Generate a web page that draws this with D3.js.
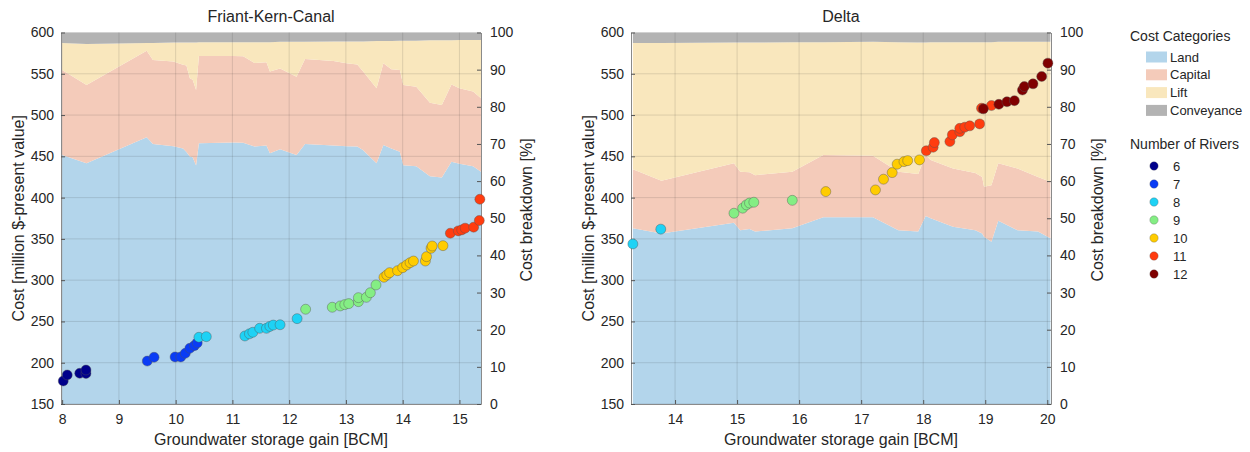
<!DOCTYPE html>
<html>
<head>
<meta charset="utf-8">
<script src="https://cdn.jsdelivr.net/npm/d3@7"></script>
<style>
  body { margin: 0; background: #fff; }
  svg { display: block; }
  text { font-family: "Liberation Sans", Arial, Helvetica, sans-serif; fill: #262626; }
</style>
</head>
<body>
<svg id="chart" width="1250" height="452"></svg>
<script>
// ---- Cost categories and river-count classes ----
const categories = ["Land", "Capital", "Lift", "Conveyance"];
const categoryColors = ["#b3d5eb", "#f4cbba", "#f9e7bd", "#b3b3b3"];
const riverCounts = [6, 7, 8, 9, 10, 11, 12];
const riverColors = ["#00008b", "#0a3cf5", "#1ed2f5", "#84ee84", "#ffcc00", "#ff3c0f", "#800000"];

// ---- Axis ticks ----
const costTicks = [150, 200, 250, 300, 350, 400, 450, 500, 550, 600];
const pctTicks = [0, 10, 20, 30, 40, 50, 60, 70, 80, 90, 100];
const fkcXTicks = [8, 9, 10, 11, 12, 13, 14, 15];
const deltaXTicks = [14, 15, 16, 17, 18, 19, 20];

// ---- Friant-Kern-Canal: cost breakdown [%] along storage gain ----
const fkcAreaX = [8.00, 8.43, 9.49, 9.60, 9.96, 10.13, 10.19, 10.25, 10.30, 10.36, 10.41, 11.01, 11.19, 11.39, 11.60, 11.66, 11.84, 12.13, 12.28, 12.78, 13.01, 13.20, 13.30, 13.54, 13.66, 13.80, 13.95, 14.01, 14.24, 14.48, 14.69, 14.86, 15.00, 15.24, 15.38];
const fkcLand = [67.0, 64.8, 71.8, 70.0, 69.4, 68.8, 67.8, 66.6, 66.4, 64.2, 70.2, 70.4, 70.3, 69.3, 69.6, 67.5, 68.6, 67.0, 70.0, 69.6, 69.4, 69.3, 68.4, 64.8, 69.7, 68.8, 67.9, 64.3, 64.0, 61.3, 61.0, 65.2, 64.7, 64.0, 62.5];
const fkcCapital = [22.9, 21.1, 23.3, 22.6, 22.8, 22.5, 23.3, 21.1, 20.9, 20.3, 23.5, 23.3, 23.3, 22.5, 22.4, 22.0, 21.7, 21.1, 22.9, 22.7, 22.3, 22.1, 21.2, 20.2, 22.0, 21.3, 22.0, 21.6, 21.4, 19.8, 19.5, 20.8, 20.3, 20.1, 19.8];
const fkcLift = [7.3, 11.0, 2.1, 4.6, 5.1, 6.0, 6.2, 9.6, 10.0, 12.8, 3.7, 3.7, 3.8, 5.6, 5.4, 7.9, 7.2, 9.4, 4.6, 5.3, 5.9, 6.2, 8.0, 12.7, 6.0, 7.6, 7.9, 11.9, 12.4, 16.8, 17.4, 11.9, 13.0, 13.9, 15.7];
const fkcConveyance = [2.8, 3.1, 2.8, 2.8, 2.7, 2.7, 2.7, 2.7, 2.7, 2.7, 2.6, 2.6, 2.6, 2.6, 2.6, 2.6, 2.5, 2.5, 2.5, 2.4, 2.4, 2.4, 2.4, 2.3, 2.3, 2.3, 2.2, 2.2, 2.2, 2.1, 2.1, 2.1, 2.0, 2.0, 2.0];

// ---- Friant-Kern-Canal: portfolio cost [million $] ----
const fkcGain = [8.02, 8.09, 8.31, 8.42, 8.42,
  9.50, 9.62, 9.99, 10.09, 10.17, 10.25, 10.33, 10.38,
  10.41, 10.54, 11.22, 11.30, 11.36, 11.48, 11.60, 11.66, 11.72, 11.84, 12.14,
  12.29, 12.76, 12.90, 12.98, 13.05, 13.22, 13.22, 13.36, 13.43, 13.53,
  13.67, 13.72, 13.77, 13.91, 14.00, 14.07, 14.13, 14.19, 14.40, 14.42, 14.50, 14.52, 14.71,
  14.84, 14.98, 15.04, 15.10, 15.25, 15.35, 15.36];
const fkcCost = [177.9, 185.2, 187.2, 187.0, 191.2,
  202.0, 206.6, 207.0, 207.0, 211.4, 217.5, 220.7, 224.0,
  230.8, 231.6, 232.4, 235.0, 236.9, 241.7, 241.7, 244.0, 245.6, 246.0, 253.4,
  264.8, 267.2, 268.8, 270.4, 271.6, 274.0, 278.8, 279.2, 284.8, 294.2,
  303.5, 306.3, 309.1, 311.5, 315.2, 318.4, 321.2, 323.2, 323.2, 328.5, 338.6, 341.4, 341.8,
  356.9, 359.7, 360.9, 363.0, 364.2, 372.3, 398.0];
const fkcRivers = [6, 6, 6, 6, 6,
  7, 7, 7, 7, 7, 7, 7, 7,
  8, 8, 8, 8, 8, 8, 8, 8, 8, 8, 8,
  9, 9, 9, 9, 9, 9, 9, 9, 9, 9,
  10, 10, 10, 10, 10, 10, 10, 10, 10, 10, 10, 10, 10,
  11, 11, 11, 11, 11, 11, 11];

// ---- Delta: cost breakdown [%] along storage gain ----
const deltaAreaX = [13.32, 13.78, 14.95, 15.05, 15.20, 15.29, 15.89, 16.39, 17.19, 17.60, 17.92, 18.04, 18.12, 18.48, 18.84, 18.95, 18.98, 19.10, 19.21, 19.52, 19.85, 20.05];
const deltaLand = [47.3, 45.9, 48.8, 46.8, 47.1, 46.4, 47.3, 50.3, 50.3, 46.8, 46.4, 50.6, 50.0, 47.7, 46.8, 45.9, 45.0, 43.7, 49.3, 46.8, 46.4, 44.6];
const deltaCapital = [15.9, 14.2, 16.0, 15.7, 15.3, 15.2, 15.2, 16.7, 16.5, 15.7, 15.5, 16.4, 15.7, 15.7, 15.4, 15.2, 13.5, 15.2, 15.5, 16.6, 14.7, 15.2];
const deltaLift = [34.0, 37.1, 32.5, 34.8, 34.9, 35.7, 34.9, 30.4, 30.7, 34.9, 35.4, 30.3, 31.7, 34.0, 35.2, 36.3, 38.9, 38.5, 32.7, 34.1, 36.4, 37.7];
const deltaConveyance = [2.8, 2.8, 2.7, 2.7, 2.7, 2.7, 2.6, 2.6, 2.5, 2.6, 2.7, 2.7, 2.6, 2.6, 2.6, 2.6, 2.6, 2.6, 2.5, 2.5, 2.5, 2.5];

// ---- Delta: portfolio cost [million $] ----
const deltaGain = [13.32, 13.77,
  14.95, 15.09, 15.15, 15.20, 15.27, 15.89,
  16.43, 17.23, 17.36, 17.50, 17.58, 17.69, 17.75, 17.94,
  18.05, 18.16, 18.18, 18.43, 18.47, 18.59, 18.59, 18.67, 18.75, 18.91, 18.94, 19.10,
  18.97, 19.22, 19.35, 19.47, 19.60, 19.63, 19.77, 19.91, 20.01];
const deltaCost = [343.9, 361.8,
  381.1, 387.2, 391.2, 393.4, 394.4, 396.7,
  407.3, 409.3, 422.3, 430.3, 440.5, 443.6, 444.8, 445.7,
  456.7, 461.0, 466.7, 467.9, 476.0, 479.8, 483.9, 485.3, 486.9, 489.3, 508.3, 511.5,
  507.5, 513.0, 516.1, 517.4, 530.3, 534.5, 537.8, 546.7, 562.9];
const deltaRivers = [8, 8,
  9, 9, 9, 9, 9, 9,
  10, 10, 10, 10, 10, 10, 10, 10,
  11, 11, 11, 11, 11, 11, 11, 11, 11, 11, 11, 11,
  12, 12, 12, 12, 12, 12, 12, 12, 12];

// ---- Layout ----
const plotTop = 32.5, plotBottom = 404;
const panels = [
  { title: "Friant-Kern-Canal", x0: 61, x1: 481, xDomain: [7.98, 15.38], xTicks: fkcXTicks,
    areaX: fkcAreaX, shares: [fkcLand, fkcCapital, fkcLift, fkcConveyance],
    gain: fkcGain, cost: fkcCost, rivers: fkcRivers, leftLabelX: 24, rightLabelX: 532, rightLabelY: 210 },
  { title: "Delta", x0: 631, x1: 1051, xDomain: [13.29, 20.06], xTicks: deltaXTicks,
    areaX: deltaAreaX, shares: [deltaLand, deltaCapital, deltaLift, deltaConveyance],
    gain: deltaGain, cost: deltaCost, rivers: deltaRivers, leftLabelX: 594, rightLabelX: 1103, rightLabelY: 210 }
];

const svg = d3.select("#chart");
const riverColor = d3.scaleOrdinal().domain(riverCounts).range(riverColors);
const axisColor = "#8a8a8a";

panels.forEach((p, pi) => {
  const g = svg.append("g");
  const x = d3.scaleLinear().domain(p.xDomain).range([p.x0, p.x1]);
  const yCost = d3.scaleLinear().domain([150, 600]).range([plotBottom, plotTop]);
  const yPct = d3.scaleLinear().domain([0, 100]).range([plotBottom, plotTop]);

  const clipId = "clip" + pi;
  svg.append("defs").append("clipPath").attr("id", clipId)
    .append("rect").attr("x", p.x0).attr("y", plotTop)
    .attr("width", p.x1 - p.x0).attr("height", plotBottom - plotTop);

  // stacked cost shares
  const rows = p.areaX.map((v, i) => {
    const r = { x: v };
    categories.forEach((c, k) => { r[c] = p.shares[k][i]; });
    return r;
  });
  const series = d3.stack().keys(categories)(rows);
  const area = d3.area()
    .x(d => x(d.data.x))
    .y0(d => yPct(d[0]))
    .y1(d => yPct(Math.min(100, d[1])));
  g.append("g").attr("clip-path", `url(#${clipId})`)
    .selectAll("path").data(series).join("path")
    .attr("d", area)
    .attr("fill", (d, i) => categoryColors[i]);

  // grid
  const grid = g.append("g").attr("stroke", "rgba(38,38,38,0.15)").attr("stroke-width", 0.9);
  grid.selectAll("line.gx").data(p.xTicks).join("line")
    .attr("x1", d => x(d)).attr("x2", d => x(d))
    .attr("y1", plotTop).attr("y2", plotBottom);
  grid.selectAll("line.gy").data(costTicks).join("line")
    .attr("x1", p.x0).attr("x2", p.x1)
    .attr("y1", d => yCost(d)).attr("y2", d => yCost(d));

  // axes
  const styleAxis = sel => {
    sel.select(".domain").attr("stroke", axisColor);
    sel.selectAll(".tick line").attr("stroke", "#555");
    sel.selectAll(".tick text").attr("font-size", 14).attr("fill", "#262626")
      .attr("font-family", '"Liberation Sans", Arial, sans-serif');
  };
  g.append("g").attr("transform", `translate(0,${plotBottom})`)
    .call(d3.axisBottom(x).tickValues(p.xTicks).tickFormat(d3.format("d"))
      .tickSizeInner(-4).tickSizeOuter(0).tickPadding(10))
    .call(styleAxis);
  g.append("g").attr("transform", `translate(${p.x0},0)`)
    .call(d3.axisLeft(yCost).tickValues(costTicks).tickFormat(d3.format("d"))
      .tickSizeInner(-4).tickSizeOuter(0).tickPadding(7))
    .call(styleAxis);
  g.append("g").attr("transform", `translate(${p.x1},0)`)
    .call(d3.axisRight(yPct).tickValues(pctTicks).tickFormat(d3.format("d"))
      .tickSizeInner(-4).tickSizeOuter(0).tickPadding(9))
    .call(styleAxis);

  // portfolio points
  const pts = p.gain.map((v, i) => ({ x: v, c: p.cost[i], n: p.rivers[i] }));
  g.append("g").selectAll("circle").data(pts).join("circle")
    .attr("cx", d => x(d.x)).attr("cy", d => yCost(d.c)).attr("r", 5)
    .attr("fill", d => riverColor(d.n))
    .attr("stroke", "#555").attr("stroke-opacity", 0.7).attr("stroke-width", 0.6);

  // titles and axis labels
  const cx = (p.x0 + p.x1) / 2;
  g.append("text").attr("x", cx).attr("y", 22).attr("text-anchor", "middle")
    .attr("font-size", 16).text(p.title);
  g.append("text").attr("x", cx).attr("y", 445).attr("text-anchor", "middle")
    .attr("font-size", 16).text("Groundwater storage gain [BCM]");
  g.append("text").attr("transform", `translate(${p.leftLabelX},${(plotTop + plotBottom) / 2}) rotate(-90)`)
    .attr("text-anchor", "middle").attr("font-size", 16).text("Cost [million $-present value]");
  g.append("text").attr("transform", `translate(${p.rightLabelX},${p.rightLabelY}) rotate(-90)`)
    .attr("text-anchor", "middle").attr("font-size", 16).text("Cost breakdown [%]");
});

// ---- Legends ----
const lg = svg.append("g");
lg.append("text").attr("x", 1130).attr("y", 41).attr("font-size", 14).text("Cost Categories");
const catRow = lg.selectAll("g.cat").data(categories).join("g")
  .attr("transform", (d, i) => `translate(0,${57 + i * 17.8})`);
catRow.append("rect").attr("x", 1146).attr("y", -5.5).attr("width", 21).attr("height", 11)
  .attr("fill", (d, i) => categoryColors[i]);
catRow.append("text").attr("x", 1170).attr("y", 4.6).attr("font-size", 13).text(d => d);

lg.append("text").attr("x", 1130).attr("y", 149).attr("font-size", 14).text("Number of Rivers");
const rivRow = lg.selectAll("g.riv").data(riverCounts).join("g")
  .attr("transform", (d, i) => `translate(0,${166 + i * 18})`);
rivRow.append("circle").attr("cx", 1154).attr("cy", 0).attr("r", 4.2)
  .attr("fill", d => riverColor(d)).attr("stroke", "#555").attr("stroke-opacity", 0.6).attr("stroke-width", 0.5);
rivRow.append("text").attr("x", 1173).attr("y", 4.8).attr("font-size", 13).text(d => d);
</script>
</body>
</html>
